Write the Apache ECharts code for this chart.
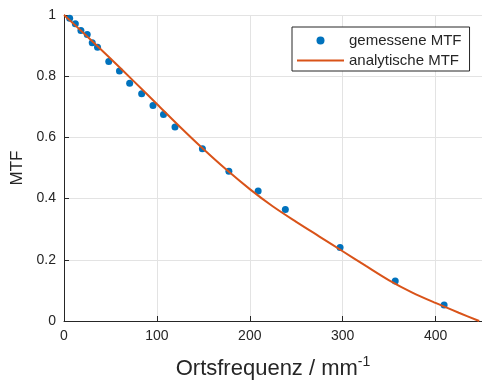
<!DOCTYPE html>
<html>
<head>
<meta charset="utf-8">
<script src="https://cdn.jsdelivr.net/npm/echarts@6/dist/echarts.min.js"></script>
<style>
  html, body { margin: 0; padding: 0; background: #fff; }
  #chart { width: 482px; height: 385px; }
</style>
</head>
<body>
<div id="chart"></div>
<script>
// gemessene MTF (Messpunkte)
const measX = [6.1, 12.2, 18.2, 25, 30.4, 36.1, 48.2, 59.7, 70.7, 83.6, 95.8, 107.1, 119.5, 149, 177.5, 209, 238.3, 297.2, 356.6, 409.2];
const measY = [0.989, 0.971, 0.949, 0.936, 0.909, 0.895, 0.848, 0.817, 0.777, 0.743, 0.704, 0.675, 0.634, 0.563, 0.489, 0.425, 0.364, 0.240, 0.131, 0.052];

const lineX = [0, 25, 50, 75, 100, 125, 150, 175, 200, 225, 250, 275, 300, 325, 350, 375, 400, 425, 447];
const lineY = [1.000, 0.930, 0.858, 0.784, 0.709, 0.634, 0.562, 0.494, 0.431, 0.374, 0.324, 0.276, 0.228, 0.180, 0.133, 0.093, 0.059, 0.027, 0.000];

const seriesNames = ['gemessene MTF', 'analytische MTF'];
const xTitle = 'Ortsfrequenz / mm';
const xTitleExp = '-1';
const yTitle = 'MTF';

const textColor = '#262626';
const gridColor = '#e3e3e3';
const font = 'Liberation Sans, Arial, sans-serif';

const chart = echarts.init(document.getElementById('chart'));

const option = {
  animation: false,
  grid: {
    left: 64,
    top: 15,
    width: 420,
    height: 310,
  },
  legend: {
    orient: 'vertical',
    left: 292,
    top: 27,
    padding: [6, 8, 3, 4],
    itemGap: 5,
    itemWidth: 47,
    itemHeight: 8,
    backgroundColor: '#fff',
    borderColor: textColor,
    borderWidth: 1,
    borderRadius: 0,
    textStyle: {
      fontFamily: font,
      fontSize: 15,
      color: textColor,
    },
    data: [
      { name: seriesNames[0], icon: 'circle' },
      { name: seriesNames[1], itemStyle: { opacity: 0 } },
    ],
  },
  xAxis: {
    type: 'value',
    min: 0,
    max: 450,
    interval: 100,
    name: '{a|' + xTitle + '}{b|' + xTitleExp + '}',
    nameLocation: 'middle',
    nameGap: 34,
    nameTextStyle: {
      rich: {
        a: { fontFamily: font, fontSize: 22, color: textColor, lineHeight: 28 },
        b: { fontFamily: font, fontSize: 14, color: textColor, lineHeight: 14, verticalAlign: 'top' },
      },
    },
    axisLine: { show: true, lineStyle: { color: textColor, width: 1 } },
    axisTick: { show: true, inside: true, length: 5, lineStyle: { color: textColor } },
    axisLabel: {
      margin: 8,
      showMaxLabel: false,
      fontFamily: font,
      fontSize: 14,
      color: textColor,
    },
    splitLine: { show: true, lineStyle: { color: gridColor, width: 1 } },
  },
  yAxis: {
    type: 'value',
    min: 0,
    max: 1,
    interval: 0.2,
    name: yTitle,
    nameLocation: 'middle',
    nameGap: 38,
    nameTextStyle: {
      fontFamily: font,
      fontSize: 17,
      color: textColor,
    },
    axisLine: { show: true, lineStyle: { color: textColor, width: 1 } },
    axisTick: { show: true, inside: true, length: 5, lineStyle: { color: textColor } },
    axisLabel: {
      margin: 8,
      fontFamily: font,
      fontSize: 14,
      color: textColor,
    },
    splitLine: { show: true, lineStyle: { color: gridColor, width: 1 } },
  },
  series: [
    {
      name: seriesNames[0],
      type: 'scatter',
      symbol: 'circle',
      symbolSize: 7,
      z: 2,
      itemStyle: { color: '#0072BD', opacity: 1 },
      data: measX.map((x, i) => [x, measY[i]]),
    },
    {
      name: seriesNames[1],
      type: 'line',
      symbol: 'none',
      smooth: 0.3,
      z: 3,
      lineStyle: { color: '#D95319', width: 2 },
      itemStyle: { color: '#D95319' },
      data: lineX.map((x, i) => [x, lineY[i]]),
    },
  ],
};

chart.setOption(option);
</script>
</body>
</html>
